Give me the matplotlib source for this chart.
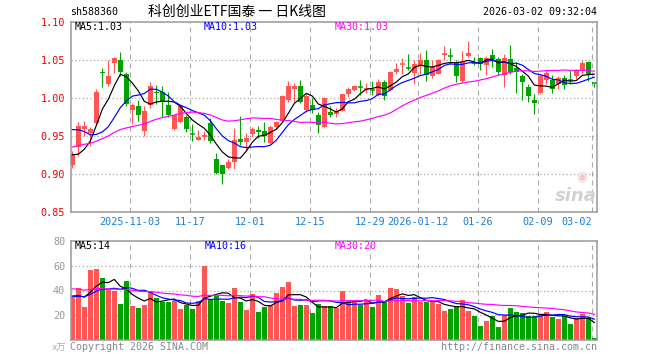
import numpy as np
import pandas as pd
import matplotlib
matplotlib.use('Agg')
import matplotlib.pyplot as plt

# ---------------- data ----------------
opens = [0.911, 0.935, 0.959, 0.954, 0.967, 1.034, 1.018, 1.0456, 1.050, 1.0316,
         0.984, 0.9886, 0.9557, 0.990, 1.0075, 1.008, 0.990, 0.959, 0.968, 0.9746,
         0.9526, 0.9447, 0.948, 0.9666, 0.920, 0.911, 0.908, 0.9154, 0.9452, 0.9417,
         0.9526, 0.957, 0.9557, 0.9404, 0.9614, 0.970, 0.9965, 1.0118, 1.016, 0.984,
         0.991, 0.977, 0.962, 0.981, 0.978, 0.9825, 1.0044, 1.0105, 1.0145, 1.0114,
         1.0100, 1.003, 1.0206, 1.0096, 1.0338, 1.0443, 1.0395, 1.0325, 1.0412, 1.0491,
         1.028, 1.0316, 1.0566, 1.0548, 1.0456, 1.0215, 1.0548, 1.0465, 1.0522, 1.0434,
         1.0566, 1.0513, 1.0303, 1.0513, 1.0395, 1.028, 1.014, 0.9965, 1.0066, 1.0228,
         1.0237, 1.0184, 1.0263, 1.0232, 1.028, 1.036, 1.047, 1.0198]
highs = [0.930, 0.968, 0.970, 0.962, 1.011, 1.039, 1.049, 1.054, 1.060, 1.034,
         0.993, 0.9965, 0.9886, 1.0206, 1.017, 1.0158, 1.008, 0.9776, 0.990, 0.977,
         0.9658, 0.957, 0.956, 0.9735, 0.927, 0.912, 0.920, 0.960, 0.9754, 0.9535,
         0.9614, 0.9623, 0.968, 0.9636, 0.970, 1.003, 1.0215, 1.019, 1.023, 1.005,
         1.000, 0.981, 1.001, 0.9886, 0.987, 1.005, 1.014, 1.0162, 1.0237, 1.020,
         1.0215, 1.025, 1.0228, 1.0347, 1.0456, 1.0526, 1.058, 1.049, 1.0588, 1.0623,
         1.050, 1.0513, 1.0675, 1.0658, 1.049, 1.061, 1.0746, 1.0535, 1.0535, 1.0544,
         1.0645, 1.0535, 1.058, 1.0689, 1.0469, 1.0316, 1.018, 1.0044, 1.0316, 1.035,
         1.0294, 1.028, 1.0294, 1.0368, 1.0373, 1.050, 1.048, 1.020]
lows = [0.908, 0.923, 0.950, 0.937, 0.966, 1.014, 1.016, 1.032, 1.029, 0.9886,
        0.965, 0.970, 0.950, 0.9868, 0.992, 0.9746, 0.9746, 0.958, 0.9667, 0.955,
        0.943, 0.944, 0.944, 0.940, 0.899, 0.887, 0.9066, 0.9057, 0.9373, 0.9307,
        0.948, 0.947, 0.9417, 0.9395, 0.959, 0.9689, 0.994, 0.994, 0.993, 0.981,
        0.980, 0.9535, 0.9605, 0.9746, 0.9746, 0.982, 1.001, 1.0088, 1.004, 1.006,
        1.003, 1.0018, 0.9974, 1.0088, 1.0316, 1.0307, 1.036, 1.0184, 1.0316, 1.0215,
        1.0263, 1.0307, 1.0491, 1.0447, 1.0206, 1.0197, 1.0535, 1.0425, 1.036, 1.0294,
        1.0404, 1.0294, 1.014, 1.0316, 1.006, 0.9965, 0.9943, 0.978, 1.0053, 1.0184,
        1.006, 1.0118, 1.0118, 1.0184, 1.025, 1.0316, 1.0219, 1.014]
closes = [0.925, 0.963, 0.963, 0.959, 1.0075, 1.032, 1.0285, 1.052, 1.034, 0.992,
          0.990, 0.977, 0.983, 1.016, 1.006, 0.995, 0.977, 0.977, 0.989, 0.959,
          0.9517, 0.948, 0.951, 0.9435, 0.901, 0.900, 0.915, 0.945, 0.9417, 0.947,
          0.9583, 0.9548, 0.9496, 0.9614, 0.968, 1.0018, 1.016, 1.015, 0.994, 1.0018,
          0.984, 0.9636, 0.9996, 0.9768, 0.982, 1.0044, 1.011, 1.0154, 1.0136, 1.0118,
          1.0096, 1.0206, 1.0018, 1.0338, 1.0373, 1.0447, 1.039, 1.0439, 1.0491, 1.0294,
          1.0404, 1.050, 1.057, 1.0544, 1.028, 1.047, 1.0592, 1.046, 1.0447, 1.0526,
          1.0513, 1.0338, 1.0526, 1.0338, 1.0338, 1.0206, 1.0018, 0.993, 1.0285, 1.0325,
          1.0118, 1.0259, 1.0162, 1.0228, 1.036, 1.046, 1.0307, 1.0196]
volumes = [33.9, 42.4, 26.4, 56.8, 57.6, 50.4, 40.8, 39.2, 28.8, 48.0,
           27.2, 25.6, 28.0, 39.2, 33.6, 30.7, 30.7, 31.2, 24.8, 28.0,
           24.8, 31.2, 60.0, 32.8, 35.5, 31.2, 29.6, 42.4, 30.4, 24.0,
           36.8, 22.4, 26.4, 28.0, 37.6, 43.2, 47.2, 27.2, 28.0, 28.0,
           21.6, 28.8, 27.2, 27.2, 25.9, 40.0, 31.2, 31.2, 28.0, 31.7,
           26.4, 36.0, 31.2, 42.4, 41.6, 35.2, 29.6, 34.4, 30.4, 30.4,
           31.2, 28.8, 23.2, 24.8, 26.4, 32.0, 23.2, 19.2, 11.2, 15.2,
           19.2, 10.4, 20.0, 25.6, 22.4, 21.6, 19.2, 19.2, 20.8, 22.4,
           18.4, 16.8, 19.2, 12.8, 17.6, 20.8, 17.6, 1.6]
# closes / volumes before the visible window, estimated from where the MA lines start
prev_closes = [0.905, 0.912, 0.918, 0.925, 0.930, 0.921, 0.915, 0.920, 0.928, 0.935,
               0.930, 0.925, 0.918, 0.922, 0.930, 0.928, 0.925, 0.920, 0.926, 0.937,
               0.965, 0.985, 1.005, 1.000, 1.000, 0.960, 0.930, 0.905, 0.905]
prev_volumes = [48, 52, 40, 38, 45, 55, 42, 36, 47, 50, 44, 39, 41, 48, 52, 43, 40, 46, 38, 48,
                36, 30, 38, 31, 34.5, 40, 33, 37, 33.6]

tick_index = [10, 20, 30, 40, 50, 58, 68, 78, 87]
tick_labels = ['2025-11-03', '11-17', '12-01', '12-15', '12-29', '2026-01-12',
               '01-26', '02-09', '03-02']
price_ticks = [0.85, 0.90, 0.95, 1.00, 1.05, 1.10]
vol_ticks = [20, 40, 60, 80]
code = 'sh588360'
title = '科创创业ETF国泰 一 日K线图'
timestamp = '2026-03-02 09:32:04'
price_ma_text = ['MA5:1.03', 'MA10:1.03', 'MA30:1.03']
vol_ma_text = ['MA5:14', 'MA10:16', 'MA30:20']

# ---------------- styling ----------------
RED = '#ff5555'
GREEN = '#00a300'
GRID = '#aaaaaa'
FRAME = '#999999'
MONO = 'DejaVu Sans Mono'
W, H = 660, 360

fig = plt.figure(figsize=(W / 100, H / 100), dpi=100)
fig.patch.set_facecolor('white')

def fx(px):
    return px / W

def fy(py):
    return 1 - py / H

left_px, right_px = 70.7, 596.7
axp = fig.add_axes([fx(left_px), fy(211.7), (right_px - left_px) / W, (211.7 - 21.7) / H])
axv = fig.add_axes([fx(left_px), fy(340), (right_px - left_px) / W, (340 - 241) / H])

n = len(closes)
x = np.arange(n)
o = np.array(opens); c = np.array(closes); hi = np.array(highs); lo = np.array(lows)
v = np.array(volumes)
up = c > o
cols = np.where(up, RED, GREEN)

all_c = pd.Series(prev_closes + closes)
all_v = pd.Series(prev_volumes + volumes)
k = len(prev_closes)
ma = {p: all_c.rolling(p).mean().values[k:] for p in (5, 10, 30)}
vma = {p: all_v.rolling(p).mean().values[k:] for p in (5, 10, 30)}

xmin, xmax = -0.27, 87.4
for ax in (axp, axv):
    ax.set_xlim(xmin, xmax)
    for s in ax.spines.values():
        s.set_color(FRAME)
        s.set_linewidth(1.1)
    ax.tick_params(length=0)
    ax.set_xticks([])
    for t in tick_index:
        ax.axvline(t - 0.4, color=GRID, lw=0.8, ls=(0, (4.5, 3.6)), zorder=0)

# price panel
axp.set_ylim(0.85, 1.10)
for yv in price_ticks[1:-1]:
    axp.axhline(yv, color=GRID, lw=0.9, ls=(0, (1, 2)), zorder=0)
axp.set_yticks(price_ticks)
axp.set_yticklabels(['%.2f' % t for t in price_ticks], color='#ee0000', family=MONO, fontsize=7.3)
axp.tick_params(axis='y', pad=4)

bw = 0.76
axp.vlines(x, lo, hi, colors=cols, lw=0.8, zorder=2)
body_b = np.minimum(o, c)
body_h = np.abs(c - o)
axp.bar(x, body_h, bottom=body_b, width=bw, color=cols, linewidth=0, zorder=3)
flat = body_h < 0.0015
axp.hlines(c[flat], x[flat] - bw / 2, x[flat] + bw / 2, colors=cols[flat], lw=1.1, zorder=3)

axp.plot(x, ma[5], color='black', lw=0.85, zorder=4)
axp.plot(x, ma[10], color='#0000ff', lw=0.85, zorder=4)
axp.plot(x, ma[30], color='#ff00ff', lw=0.85, zorder=4)

# volume panel
axv.set_ylim(0, 80)
for yv in vol_ticks[:-1]:
    axv.axhline(yv, color=GRID, lw=0.9, ls=(0, (1, 2)), zorder=0)
axv.set_yticks(vol_ticks)
axv.set_yticklabels([str(t) for t in vol_ticks], color='#999999', family=MONO, fontsize=7.3)
axv.tick_params(axis='y', pad=4)
axv.bar(x, v, width=0.82, color=cols, linewidth=0, zorder=2)
axv.plot(x, vma[5], color='black', lw=0.85, zorder=4)
axv.plot(x, vma[10], color='#0000ff', lw=0.85, zorder=4)
axv.plot(x, vma[30], color='#ff00ff', lw=0.85, zorder=4)

# x tick labels (under price panel)
for t, lab in zip(tick_index, tick_labels):
    last = t == tick_index[-1]
    axp.text(t - 0.45 if last else t - 0.4, 0.843, lab, transform=axp.transData,
             ha='right' if last else 'center', va='top', color='#1a7fd6',
             family=MONO, fontsize=7.3, clip_on=False)

# header texts
fig.text(fx(70), fy(12), code, ha='left', va='center', family=MONO, fontsize=7.2, color='black')
fig.text(fx(237), fy(12), title, ha='center', va='center',
         family=['Noto Sans CJK SC', 'DejaVu Sans'], fontsize=10, color='black')
fig.text(fx(597), fy(12), timestamp, ha='right', va='center', family=MONO, fontsize=7.2, color='black')

# MA labels
for xx, s, col in zip([75, 204, 335], price_ma_text, ['black', '#0000ff', '#ff00ff']):
    fig.text(fx(xx), fy(26.5), s, ha='left', va='center', family=MONO, fontsize=7.2, color=col)
for xx, s, col in zip([75, 205, 335], vol_ma_text, ['black', '#0000ff', '#ff00ff']):
    fig.text(fx(xx), fy(246), s, ha='left', va='center', family=MONO, fontsize=7.2, color=col)

fig.text(fx(66), fy(348), 'x万', ha='right', va='center',
         family=['DejaVu Sans Mono', 'Noto Sans CJK SC'], fontsize=6.5, color='#aaaaaa')
fig.text(fx(70), fy(347), 'Copyright 2026 SINA.COM', ha='left', va='center',
         family=MONO, fontsize=7.2, color='#888888')
fig.text(fx(597), fy(347), 'http://finance.sina.com.cn', ha='right', va='center',
         family=MONO, fontsize=7.2, color='#888888')

# faint sina watermark
fig.text(fx(576), fy(196), 'sina', ha='center', va='center', fontsize=13, style='italic',
         weight='bold', color='#d2d2d2', family='DejaVu Sans')
fig.text(fx(582), fy(178), '◉', ha='center', va='center', fontsize=9, color='#f2c8c8',
         family='DejaVu Sans')

fig.savefig('out.png', dpi=100, facecolor='white')
